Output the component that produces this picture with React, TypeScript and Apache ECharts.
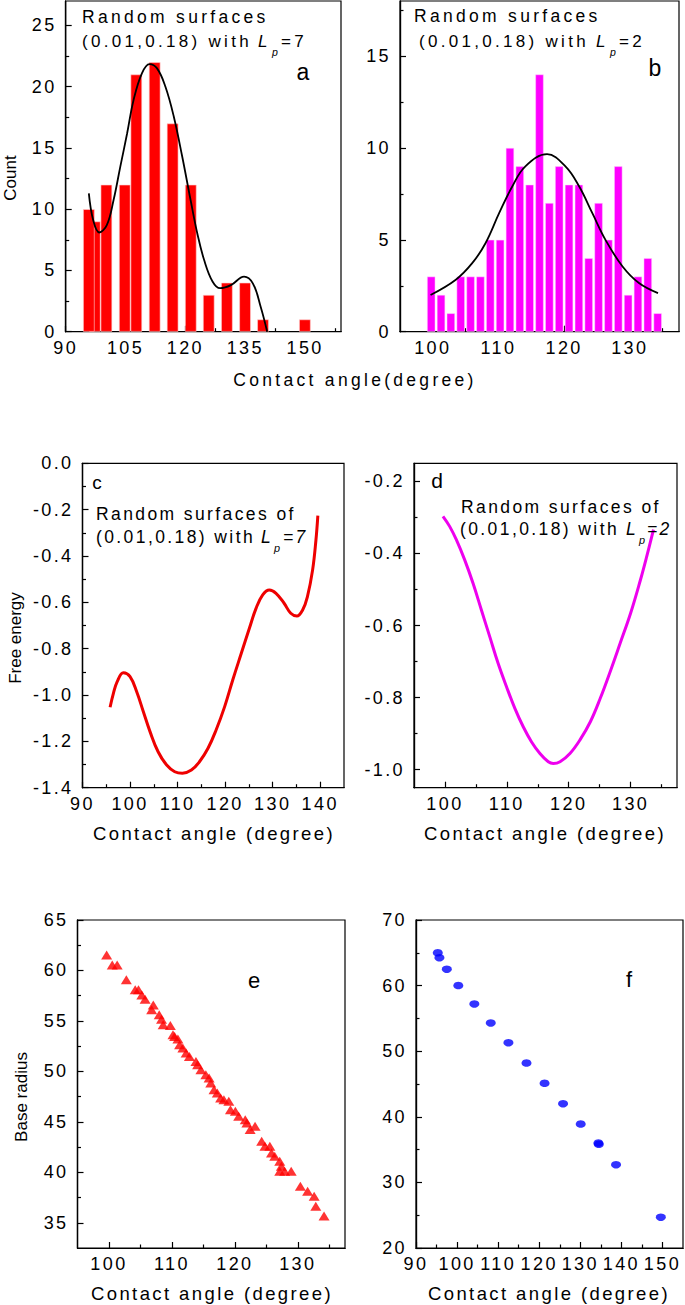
import React, { useEffect, useRef, useState } from "react";
import * as echarts from "echarts";

// ---------------- Panel a: histogram, Lp = 7 ----------------
const aBinCenters = [97.3, 95.8, 100.2, 104.8, 107.7, 112.3, 116.8, 121.35, 125.85, 130.4, 134.95, 139.45, 149.95];
const aCounts = [9, 10, 12, 12, 21, 22, 17, 12, 3, 4, 4, 1, 1];
const aFitAngles = [95.8, 96.9, 98.4, 100.3, 102.0, 103.7, 105.4, 107.0, 109.1, 111.0, 112.9, 115.0, 117.1, 119.2, 121.3, 123.0, 124.7, 126.8, 128.7, 131.4, 134.7, 136.9, 138.9, 140.5];
const aFitCounts = [11.3, 9.1, 8.1, 8.7, 10.75, 13.5, 16.2, 18.9, 21.1, 21.85, 21.5, 20.0, 17.55, 14.3, 10.75, 8.0, 5.85, 4.1, 3.55, 3.8, 4.5, 3.95, 2.0, 0];
const aXMajor = [90, 105, 120, 135, 150];
const aXMinor = [97.5, 112.5, 127.5, 142.5, 157.5];
const aYMajor = [0, 5, 10, 15, 20, 25];
const aYMinor = [2.5, 7.5, 12.5, 17.5, 22.5];

// ---------------- Panel b: histogram, Lp = 2 ----------------
const bBinCenters = [99.75, 101.25, 102.75, 104.25, 105.75, 107.25, 108.75, 110.25, 111.75, 113.25, 114.75, 116.25, 117.75, 119.25, 120.75, 122.25, 123.75, 125.25, 126.75, 128.25, 129.75, 131.25, 132.75, 134.25];
const bCounts = [3, 2, 1, 3, 3, 3, 5, 5, 10, 9, 8, 14, 7, 9, 8, 8, 4, 7, 5, 9, 2, 3, 4, 1];
const bFitAngles = [99.65, 103.5, 106.0, 108.0, 110.1, 112.1, 114.1, 117.4, 120.2, 122.3, 124.3, 126.3, 128.9, 131.4, 134.3];
const bFitCounts = [2.0, 2.83, 3.73, 4.8, 6.45, 7.9, 9.0, 9.66, 9.0, 7.9, 6.45, 5.0, 3.55, 2.65, 2.1];
const bXMajor = [100, 110, 120, 130];
const bXMinor = [105, 115, 125, 135];
const bYMajor = [0, 5, 10, 15];
const bYMinor = [2.5, 7.5, 12.5, 17.5];

// ---------------- Panel c: free energy, Lp = 7 ----------------
const cAngles = [95.8, 96.5, 97.3, 98.6, 100.0, 101.4, 102.8, 104.2, 105.9, 107.7, 109.4, 111.0, 112.9, 114.6, 116.4, 118.1, 119.9, 121.6, 123.4, 125.1, 126.5, 127.9, 129.3, 130.7, 132.4, 133.8, 135.1, 136.3, 137.3, 138.4, 139.1, 139.5];
const cEnergy = [-1.053, -0.993, -0.942, -0.904, -0.921, -0.986, -1.072, -1.158, -1.245, -1.302, -1.331, -1.338, -1.324, -1.288, -1.23, -1.151, -1.05, -0.935, -0.82, -0.712, -0.626, -0.568, -0.547, -0.561, -0.604, -0.647, -0.659, -0.633, -0.576, -0.46, -0.331, -0.226];
const cXMajor = [90, 100, 110, 120, 130, 140];
const cXMinor = [95, 105, 115, 125, 135];
const cYMajor = [0, -0.2, -0.4, -0.6, -0.8, -1.0, -1.2, -1.4];
const cYMinor = [-0.1, -0.3, -0.5, -0.7, -0.9, -1.1, -1.3];

// ---------------- Panel d: free energy, Lp = 2 ----------------
const dAngles = [99.68, 100.76, 101.84, 103.19, 104.54, 105.89, 107.24, 108.59, 109.95, 111.3, 112.65, 114.0, 115.35, 116.7, 117.5, 118.6, 120.2, 121.8, 123.5, 125.1, 126.7, 128.3, 130.0, 131.6, 132.6, 133.7];
const dEnergy = [-0.297, -0.325, -0.362, -0.418, -0.483, -0.557, -0.631, -0.705, -0.77, -0.83, -0.881, -0.923, -0.955, -0.978, -0.983, -0.978, -0.955, -0.918, -0.867, -0.802, -0.728, -0.65, -0.566, -0.473, -0.409, -0.334];
const dXMajor = [100, 110, 120, 130];
const dXMinor = [105, 115, 125, 135];
const dYMajor = [-0.2, -0.4, -0.6, -0.8, -1.0];
const dYMinor = [-0.3, -0.5, -0.7, -0.9];

// ---------------- Panel e: base radius, Lp = 7 ----------------
const eAngles = [99.63, 100.52, 101.3, 102.76, 104.17, 104.69, 105.22, 105.74, 107.04, 106.78, 107.98, 108.35, 108.61, 109.75, 110.17, 110.43, 110.95, 111.22, 111.74, 112.26, 112.78, 113.82, 114.08, 114.61, 115.39, 115.91, 116.17, 116.69, 117.21, 117.74, 118.26, 119.04, 119.3, 120.08, 120.61, 121.65, 121.91, 122.43, 123.21, 124.26, 124.78, 125.56, 125.82, 126.34, 127.13, 127.39, 127.13, 127.91, 128.95, 130.41, 131.56, 132.6, 132.86, 134.17];
const eRadius = [61.54, 60.55, 60.55, 59.07, 58.08, 58.08, 57.58, 57.15, 56.59, 56.1, 55.6, 55.17, 54.61, 54.55, 53.63, 53.46, 53.2, 52.64, 52.31, 51.81, 51.48, 50.99, 50.66, 50.16, 49.67, 49.34, 48.84, 48.18, 47.86, 47.36, 47.2, 47.03, 46.21, 46.04, 45.55, 45.22, 44.89, 44.23, 44.56, 43.07, 42.58, 42.58, 41.92, 41.59, 41.1, 40.6, 40.11, 40.11, 40.11, 38.62, 38.13, 37.63, 36.64, 35.66];
const eXMajor = [100, 110, 120, 130];
const eXMinor = [105, 115, 125, 135];
const eYMajor = [35, 40, 45, 50, 55, 60, 65];
const eYMinor = [37.5, 42.5, 47.5, 52.5, 57.5, 62.5];

// ---------------- Panel f: base radius, Lp = 2 ----------------
const fAngles = [95.3, 95.7, 97.5, 100.3, 104.2, 108.2, 112.5, 116.9, 121.3, 125.8, 130.1, 134.4, 134.5, 138.7, 149.6];
const fRadius = [65.0, 64.25, 62.5, 60.0, 57.2, 54.3, 51.3, 48.2, 45.1, 42.0, 38.9, 36.0, 35.8, 32.7, 24.7];
const fXMajor = [90, 100, 110, 120, 130, 140, 150];
const fXMinor = [95, 105, 115, 125, 135, 145];
const fYMajor = [20, 30, 40, 50, 60, 70];
const fYMinor = [25, 35, 45, 55, 65];

// ---------------- fonts / letter spacing groups ----------------
const FONT_PLAIN = "Liberation Sans";
const FONT_TICK = "Liberation Sans, Arial";
const FONT_WIDE = "Liberation Sans, Helvetica";
const LS_TICK = 2.4;
const LS_WIDE = 3.3;

const zip = (xs: number[], ys: number[]) => xs.map((x, i) => [x, ys[i]]);

type PanelCfg = {
  left: number; top: number; right: number; bottom: number;
  xMin: number; xMax: number; yMin: number; yMax: number;
  xMajor: number[]; xMinor: number[]; yMajor: number[]; yMinor: number[];
  yDec: number;
};

const panels: PanelCfg[] = [
  { left: 65.7, top: 1, right: 341, bottom: 331.7, xMin: 90, xMax: 159, yMin: 0, yMax: 27, xMajor: aXMajor, xMinor: aXMinor, yMajor: aYMajor, yMinor: aYMinor, yDec: 0 },
  { left: 400, top: 1, right: 679, bottom: 331.7, xMin: 95, xMax: 137.5, yMin: 0, yMax: 18, xMajor: bXMajor, xMinor: bXMinor, yMajor: bYMajor, yMinor: bYMinor, yDec: 0 },
  { left: 82.5, top: 463.3, right: 344, bottom: 787.7, xMin: 90, xMax: 145, yMin: -1.4, yMax: 0, xMajor: cXMajor, xMinor: cXMinor, yMajor: cYMajor, yMinor: cYMinor, yDec: 1 },
  { left: 414, top: 463.3, right: 677, bottom: 787.7, xMin: 95, xMax: 137.5, yMin: -1.05, yMax: -0.15, xMajor: dXMajor, xMinor: dXMinor, yMajor: dYMajor, yMinor: dYMinor, yDec: 1 },
  { left: 77.5, top: 920, right: 345, bottom: 1248, xMin: 95, xMax: 137.5, yMin: 32.5, yMax: 65, xMajor: eXMajor, xMinor: eXMinor, yMajor: eYMajor, yMinor: eYMinor, yDec: 0 },
  { left: 416, top: 920, right: 683, bottom: 1248, xMin: 90, xMax: 155, yMin: 20, yMax: 70, xMajor: fXMajor, xMinor: fXMinor, yMajor: fYMajor, yMinor: fYMinor, yDec: 0 },
];

function txt(text: string, x: number, y: number, size: number, family: string, opts: any = {}) {
  return {
    type: "text",
    x,
    y,
    rotation: opts.rotation || 0,
    z: 50,
    style: {
      text,
      fontSize: size,
      fontFamily: family,
      fontStyle: opts.italic ? "italic" : "normal",
      fill: "#000",
      align: opts.align || "left",
      verticalAlign: "middle",
    },
  };
}

// "(0.01,0.18) with L_p=N" laid out from fixed piece positions
function annot(xs: number[], y: number, size: number, family: string, tail: string, tailItalic: boolean) {
  return [
    txt("(0.01,0.18) with ", xs[0], y, size, family),
    txt("L", xs[1], y, size, family, { italic: true }),
    txt("p", xs[2], y + size * 0.62, size * 0.62, FONT_PLAIN, { italic: true }),
    txt(tail, xs[3], y, size, family, { italic: tailItalic }),
  ];
}

function buildOption() {
  const grid: any[] = [];
  const xAxis: any[] = [];
  const yAxis: any[] = [];
  const ls = { color: "#000", width: 1.2 };
  const lc = { color: "#000", fontSize: 18, fontFamily: FONT_TICK };
  panels.forEach((p, i) => {
    const rect = { left: p.left, top: p.top, width: p.right - p.left, height: p.bottom - p.top };
    grid.push({ ...rect, show: true, borderColor: "#000", borderWidth: 1.2, backgroundColor: "transparent", containLabel: false, outerBoundsMode: "none" });
    grid.push({ ...rect, show: false, containLabel: false, outerBoundsMode: "none" });
    xAxis.push({
      gridIndex: 2 * i, type: "value", min: p.xMin, max: p.xMax,
      axisLine: { show: true, onZero: false, lineStyle: ls },
      axisTick: { show: true, inside: true, length: 6, customValues: p.xMajor, lineStyle: ls },
      axisLabel: { ...lc, customValues: p.xMajor, margin: 7, formatter: (v: number) => String(v) },
      splitLine: { show: false },
    });
    xAxis.push({
      gridIndex: 2 * i + 1, type: "value", min: p.xMin, max: p.xMax,
      axisLine: { show: true, onZero: false, lineStyle: ls },
      axisTick: { show: true, inside: true, length: 3.5, customValues: p.xMinor, lineStyle: ls },
      axisLabel: { show: false },
      splitLine: { show: false },
    });
    yAxis.push({
      gridIndex: 2 * i, type: "value", min: p.yMin, max: p.yMax,
      axisLine: { show: true, onZero: false, lineStyle: ls },
      axisTick: { show: true, inside: true, length: 6, customValues: p.yMajor, lineStyle: ls },
      axisLabel: { ...lc, customValues: p.yMajor, margin: 9, formatter: (v: number) => (p.yDec ? v.toFixed(p.yDec) : String(v)) },
      splitLine: { show: false },
    });
    yAxis.push({
      gridIndex: 2 * i + 1, type: "value", min: p.yMin, max: p.yMax,
      axisLine: { show: true, onZero: false, lineStyle: ls },
      axisTick: { show: true, inside: true, length: 3.5, customValues: p.yMinor, lineStyle: ls },
      axisLabel: { show: false },
      splitLine: { show: false },
    });
  });

  const series: any[] = [
    { type: "bar", xAxisIndex: 0, yAxisIndex: 0, data: zip(aBinCenters, aCounts), barWidth: 11.5, itemStyle: { color: "#ff0000", borderColor: "#ffd0d0", borderWidth: 0.6 } },
    { type: "line", xAxisIndex: 0, yAxisIndex: 0, data: zip(aFitAngles, aFitCounts), smooth: 0.4, showSymbol: false, lineStyle: { color: "#000", width: 1.8 } },
    { type: "bar", xAxisIndex: 2, yAxisIndex: 2, data: zip(bBinCenters, bCounts), barWidth: 8.2, itemStyle: { color: "#ff00ff", borderColor: "#ffd0ff", borderWidth: 0.5 } },
    { type: "line", xAxisIndex: 2, yAxisIndex: 2, data: zip(bFitAngles, bFitCounts), smooth: 0.4, showSymbol: false, lineStyle: { color: "#000", width: 1.8 } },
    { type: "line", xAxisIndex: 4, yAxisIndex: 4, data: zip(cAngles, cEnergy), smooth: 0.4, showSymbol: false, lineStyle: { color: "#ee0000", width: 3 } },
    { type: "line", xAxisIndex: 6, yAxisIndex: 6, data: zip(dAngles, dEnergy), smooth: 0.4, showSymbol: false, lineStyle: { color: "#ee00ee", width: 3 } },
    { type: "scatter", xAxisIndex: 8, yAxisIndex: 8, data: zip(eAngles, eRadius), symbol: "triangle", symbolSize: [11, 9], itemStyle: { color: "#ff0000" } },
    { type: "scatter", xAxisIndex: 10, yAxisIndex: 10, data: zip(fAngles, fRadius), symbol: "circle", symbolSize: [10, 7.5], itemStyle: { color: "#0000ff" } },
  ];

  const elements: any[] = [
    txt("Count", 10, 178, 17, FONT_PLAIN, { rotation: Math.PI / 2, align: "center" }),
    txt("Random surfaces", 82, 17, 17.5, FONT_WIDE),
    ...annot([82, 258, 272, 281], 41, 17, FONT_WIDE, "=7", false),
    txt("a", 303, 72, 23, FONT_PLAIN, { align: "center" }),
    txt("Random surfaces", 414, 16, 17.5, FONT_WIDE),
    ...annot([419, 596, 610, 619], 41, 17, FONT_WIDE, "=2", false),
    txt("b", 655, 68, 23, FONT_PLAIN, { align: "center" }),
    txt("Contact angle(degree)", 355, 380, 17.5, FONT_WIDE, { align: "center" }),
    txt("c", 97, 482, 19, FONT_PLAIN, { align: "center" }),
    txt("Random surfaces of", 96, 514, 17.5, FONT_TICK),
    ...annot([96, 261, 274, 283], 537, 17.5, FONT_TICK, "=7", true),
    txt("Free energy", 15, 638, 17, FONT_PLAIN, { rotation: Math.PI / 2, align: "center" }),
    txt("Contact angle (degree)", 214, 833, 18.5, FONT_TICK, { align: "center" }),
    txt("d", 437, 480, 21, FONT_PLAIN, { align: "center" }),
    txt("Random surfaces of", 461, 507, 17.5, FONT_TICK),
    ...annot([460, 626, 639, 647], 529, 17.5, FONT_TICK, "=2", true),
    txt("Contact angle (degree)", 545, 833, 18.5, FONT_TICK, { align: "center" }),
    txt("e", 254, 980, 22, FONT_PLAIN, { align: "center" }),
    txt("Base radius", 21, 1097, 17, FONT_PLAIN, { rotation: Math.PI / 2, align: "center" }),
    txt("Contact angle (degree)", 212, 1293, 18.5, FONT_TICK, { align: "center" }),
    txt("f", 629, 979, 22, FONT_PLAIN, { align: "center" }),
    txt("Contact angle (degree)", 549, 1293, 18.5, FONT_TICK, { align: "center" }),
  ];

  return { animation: false, backgroundColor: "#ffffff", grid, xAxis, yAxis, series, graphic: { elements } };
}

export default function App() {
  const ref = useRef<HTMLDivElement>(null);
  const [, setReady] = useState(0);
  useEffect(() => {
    if (!ref.current) return;
    const chart = echarts.init(ref.current, undefined, { renderer: "svg" });
    chart.setOption(buildOption() as any);
    const svg = ref.current.querySelector("svg");
    setReady(svg ? svg.querySelectorAll("path").length : 1);
    return () => chart.dispose();
  }, []);
  const css = `
    #chartbox text[style*="Arial"] { letter-spacing: ${LS_TICK}px; }
    #chartbox text[style*="Helvetica"] { letter-spacing: ${LS_WIDE}px; }
  `;
  return (
    <>
      <style>{css}</style>
      <div id="chartbox" ref={ref} style={{ position: "absolute", left: 0, top: 0, width: 685, height: 1305, background: "#fff" }} />
    </>
  );
}
